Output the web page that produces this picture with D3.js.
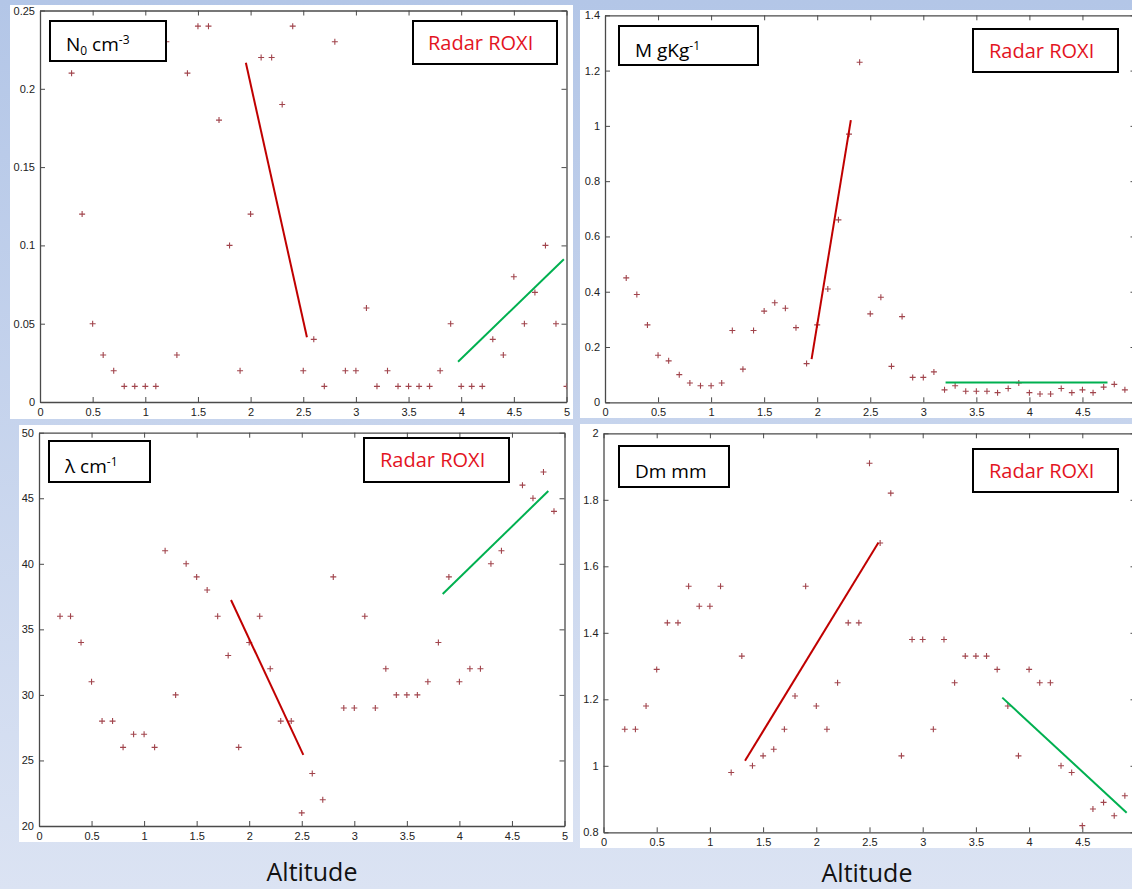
<!DOCTYPE html>
<html>
<head>
<meta charset="utf-8">
<script src="https://cdn.jsdelivr.net/npm/d3@7"></script>
<style>
  html, body { margin: 0; padding: 0; }
  body { width: 1132px; height: 889px; overflow: hidden; }
  svg { display: block; }
</style>
</head>
<body>
<svg id="chart" width="1132" height="889"></svg>
<script>
// Altitude samples (km) and retrieved parameters for each panel
const altN0 = [0.3,0.4,0.5,0.6,0.7,0.8,0.9,1.0,1.1,1.2,1.3,1.4,1.5,1.6,1.7,1.8,1.9,2.0,2.1,2.2,2.3,2.4,2.5,2.6,2.7,2.8,2.9,3.0,3.1,3.2,3.3,3.4,3.5,3.6,3.7,3.8,3.9,4.0,4.1,4.2,4.3,4.4,4.5,4.6,4.7,4.8,4.9,5.0];
const valN0 = [0.21,0.12,0.05,0.03,0.02,0.01,0.01,0.01,0.01,0.23,0.03,0.21,0.24,0.24,0.18,0.10,0.02,0.12,0.22,0.22,0.19,0.24,0.02,0.04,0.01,0.23,0.02,0.02,0.06,0.01,0.02,0.01,0.01,0.01,0.01,0.02,0.05,0.01,0.01,0.01,0.04,0.03,0.08,0.05,0.07,0.10,0.05,0.01];

const altM = [0.2,0.3,0.4,0.5,0.6,0.7,0.8,0.9,1.0,1.1,1.2,1.3,1.4,1.5,1.6,1.7,1.8,1.9,2.0,2.1,2.2,2.3,2.4,2.5,2.6,2.7,2.8,2.9,3.0,3.1,3.2,3.3,3.4,3.5,3.6,3.7,3.8,3.9,4.0,4.1,4.2,4.3,4.4,4.5,4.6,4.7,4.8,4.9];
const valM = [0.45,0.39,0.28,0.17,0.15,0.10,0.07,0.06,0.06,0.07,0.26,0.12,0.26,0.33,0.36,0.34,0.27,0.14,0.28,0.41,0.66,0.97,1.23,0.32,0.38,0.13,0.31,0.09,0.09,0.11,0.045,0.06,0.04,0.04,0.04,0.035,0.05,0.07,0.035,0.03,0.03,0.05,0.035,0.045,0.035,0.055,0.065,0.045];

const altLambda = [0.2,0.3,0.4,0.5,0.6,0.7,0.8,0.9,1.0,1.1,1.2,1.3,1.4,1.5,1.6,1.7,1.8,1.9,2.0,2.1,2.2,2.3,2.4,2.5,2.6,2.7,2.8,2.9,3.0,3.1,3.2,3.3,3.4,3.5,3.6,3.7,3.8,3.9,4.0,4.1,4.2,4.3,4.4,4.6,4.7,4.8,4.9];
const valLambda = [36,36,34,31,28,28,26,27,27,26,41,30,40,39,38,36,33,26,34,36,32,28,28,21,24,22,39,29,29,36,29,32,30,30,30,31,34,39,31,32,32,40,41,46,45,47,44];

const altDm = [0.2,0.3,0.4,0.5,0.6,0.7,0.8,0.9,1.0,1.1,1.2,1.3,1.4,1.5,1.6,1.7,1.8,1.9,2.0,2.1,2.2,2.3,2.4,2.5,2.6,2.7,2.8,2.9,3.0,3.1,3.2,3.3,3.4,3.5,3.6,3.7,3.8,3.9,4.0,4.1,4.2,4.3,4.4,4.5,4.6,4.7,4.8,4.9];
const valDm = [1.11,1.11,1.18,1.29,1.43,1.43,1.54,1.48,1.48,1.54,0.98,1.33,1.00,1.03,1.05,1.11,1.21,1.54,1.18,1.11,1.25,1.43,1.43,1.91,1.67,1.82,1.03,1.38,1.38,1.11,1.38,1.25,1.33,1.33,1.33,1.29,1.18,1.03,1.29,1.25,1.25,1.00,0.98,0.82,0.87,0.89,0.85,0.91];

// Trend segments [[alt, value], [alt, value]]
const trendN0Red = [[1.955,0.2166],[2.535,0.0413]];
const trendN0Green = [[3.97,0.0257],[4.975,0.0912]];
const trendMRed = [[1.947,0.156],[2.317,1.021]];
const trendMGreen = [[3.21,0.072],[4.736,0.072]];
const trendLambdaRed = [[1.827,37.24],[2.515,25.42]];
const trendLambdaGreen = [[3.841,37.70],[4.846,45.55]];
const trendDmRed = [[1.33,1.015],[2.583,1.671]];
const trendDmGreen = [[3.748,1.205],[4.917,0.859]];

// Axis ticks
const xTicks = [0,0.5,1,1.5,2,2.5,3,3.5,4,4.5,5];
const yTicksN0 = [0,0.05,0.1,0.15,0.2,0.25];
const yTicksM = [0,0.2,0.4,0.6,0.8,1,1.2,1.4];
const yTicksLambda = [20,25,30,35,40,45,50];
const yTicksDm = [0.8,1,1.2,1.4,1.6,1.8,2];

const W = 1132, H = 889;
const svg = d3.select("#chart");

// Slide background
const defs = svg.append("defs");
const grad = defs.append("linearGradient").attr("id", "bg").attr("x1", 0).attr("y1", 0).attr("x2", 0).attr("y2", 1);
grad.append("stop").attr("offset", "0%").attr("stop-color", "#b3c6e7");
grad.append("stop").attr("offset", "100%").attr("stop-color", "#dbe3f3");
svg.append("rect").attr("width", W).attr("height", H).attr("fill", "url(#bg)");

const panels = [
  { id: "n0", sheet: [10, 5, 573, 419], x: [40, 566.5], y: [402, 10.5], yDomain: [0, 0.25], yTicks: yTicksN0,
    alt: altN0, val: valN0, red: trendN0Red, green: trendN0Green,
    label: { box: [50, 21, 116, 40], text: "N", sub: "0", rest: " cm", sup: "-3", tx: 66, ty: 51 },
    radar: { box: [413, 21, 144, 43], tx: 428, ty: 50 } },
  { id: "m", sheet: [580, 10, W, 418], x: [605, 1135.5], y: [402.3, 15.3], yDomain: [0, 1.4], yTicks: yTicksM,
    alt: altM, val: valM, red: trendMRed, green: trendMGreen,
    label: { box: [619, 26, 139, 39], text: "M gKg", sup: "-1", tx: 635, ty: 57 },
    radar: { box: [973, 29, 145, 43], tx: 989, ty: 58 } },
  { id: "lambda", sheet: [19, 425, 573, 842], x: [39, 564.5], y: [826, 432.7], yDomain: [20, 50], yTicks: yTicksLambda,
    alt: altLambda, val: valLambda, red: trendLambdaRed, green: trendLambdaGreen,
    label: { box: [49, 441, 101, 41], text: "λ cm", sup: "-1", tx: 65, ty: 473 },
    radar: { box: [364, 438, 145, 44], tx: 380, ty: 467 } },
  { id: "dm", sheet: [580, 424, W, 848], x: [603.5, 1135.5], y: [832.3, 433.3], yDomain: [0.8, 2], yTicks: yTicksDm,
    alt: altDm, val: valDm, red: trendDmRed, green: trendDmGreen,
    label: { box: [619, 446, 110, 41], text: "Dm mm", tx: 635, ty: 478 },
    radar: { box: [973, 449, 145, 43], tx: 989, ty: 478 } }
];

const fmt = d3.format("~g");

panels.forEach(p => {
  const g = svg.append("g").attr("class", "panel-" + p.id);
  const [sx0, sy0, sx1, sy1] = p.sheet;
  g.append("rect").attr("x", sx0).attr("y", sy0).attr("width", sx1 - sx0).attr("height", sy1 - sy0).attr("fill", "#ffffff");

  const x = d3.scaleLinear().domain([0, 5]).range(p.x);
  const y = d3.scaleLinear().domain(p.yDomain).range(p.y);
  // only ticks that fall inside the slide
  const xt = xTicks.filter(t => x(t) < W - 2);

  const clipId = "clip-" + p.id;
  defs.append("clipPath").attr("id", clipId).append("rect")
    .attr("x", p.x[0]).attr("y", p.y[1]).attr("width", p.x[1] - p.x[0]).attr("height", p.y[0] - p.y[1]);

  // Axes on all four sides with inward ticks
  const axisStyle = sel => {
    sel.select(".domain").attr("stroke", "#4a4a4a").attr("stroke-width", 1.3);
    sel.selectAll(".tick line").attr("stroke", "#4a4a4a").attr("stroke-width", 1);
    sel.selectAll(".tick text").attr("fill", "#222").style("font-family", "'Liberation Sans', Arial, sans-serif").style("font-size", "11px");
  };
  g.append("g").attr("transform", `translate(0,${p.y[0]})`)
    .call(d3.axisBottom(x).tickValues(xt).tickFormat(fmt).tickSizeInner(-5).tickSizeOuter(0).tickPadding(6))
    .call(axisStyle);
  g.append("g").attr("transform", `translate(0,${p.y[1]})`)
    .call(d3.axisTop(x).tickValues(xt).tickFormat("").tickSizeInner(-5).tickSizeOuter(0))
    .call(axisStyle);
  g.append("g").attr("transform", `translate(${p.x[0]},0)`)
    .call(d3.axisLeft(y).tickValues(p.yTicks).tickFormat(fmt).tickSizeInner(-5).tickSizeOuter(0).tickPadding(5))
    .call(axisStyle);
  g.append("g").attr("transform", `translate(${p.x[1]},0)`)
    .call(d3.axisRight(y).tickValues(p.yTicks).tickFormat("").tickSizeInner(-5).tickSizeOuter(0))
    .call(axisStyle);

  const plot = g.append("g").attr("clip-path", `url(#${clipId})`);

  // Data points as "+" markers
  const pts = p.alt.map((a, i) => [a, p.val[i]]);
  const arm = 3;
  plot.append("g").selectAll("path").data(pts).join("path")
    .attr("d", d => {
      const cx = x(d[0]), cy = y(d[1]);
      return `M${cx - arm},${cy}H${cx + arm}M${cx},${cy - arm}V${cy + arm}`;
    })
    .attr("stroke", "#a1444c").attr("stroke-width", 1.1).attr("fill", "none");

  // Trend segments
  const line = d3.line().x(d => x(d[0])).y(d => y(d[1]));
  g.append("path").datum(p.red).attr("d", line).attr("stroke", "#c00000").attr("stroke-width", 2).attr("fill", "none");
  g.append("path").datum(p.green).attr("d", line).attr("stroke", "#00b050").attr("stroke-width", 2).attr("fill", "none");

  // Quantity label box
  const L = p.label;
  g.append("rect").attr("x", L.box[0]).attr("y", L.box[1]).attr("width", L.box[2]).attr("height", L.box[3])
    .attr("fill", "#fff").attr("stroke", "#000").attr("stroke-width", 2);
  const t = g.append("text").attr("x", L.tx).attr("y", L.ty)
    .style("font-family", "'Open Sans', sans-serif").style("font-size", "19px").attr("fill", "#000");
  t.append("tspan").text(L.text);
  if (L.sub) {
    t.append("tspan").attr("dy", 4).style("font-size", "12px").text(L.sub);
    t.append("tspan").attr("dy", -4).text(L.rest);
  }
  if (L.sup) t.append("tspan").attr("dy", -7).style("font-size", "12px").text(L.sup);

  // Source box
  const R = p.radar;
  g.append("rect").attr("x", R.box[0]).attr("y", R.box[1]).attr("width", R.box[2]).attr("height", R.box[3])
    .attr("fill", "#fff").attr("stroke", "#000").attr("stroke-width", 2);
  g.append("text").attr("x", R.tx).attr("y", R.ty)
    .style("font-family", "'Open Sans', sans-serif").style("font-size", "20px").attr("fill", "#e3141f")
    .text("Radar ROXI");
});

// Shared axis titles
[[312, 881], [867, 882]].forEach(([cx, by]) => {
  svg.append("text").attr("x", cx).attr("y", by).attr("text-anchor", "middle")
    .style("font-family", "'Open Sans', sans-serif").style("font-size", "25px").attr("fill", "#111")
    .text("Altitude");
});
</script>
</body>
</html>
